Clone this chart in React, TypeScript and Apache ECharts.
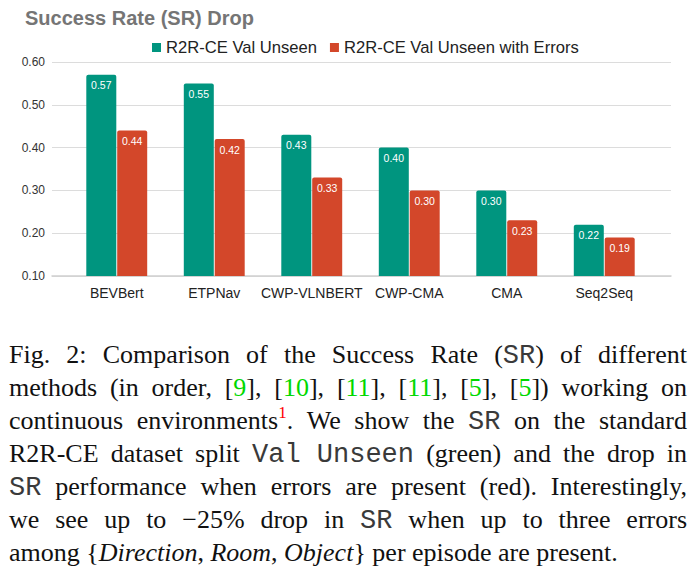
import React, { useEffect, useRef } from "react";
import * as echarts from "echarts";

const chartTitle = "Success Rate (SR) Drop";
const categories = ["BEVBert", "ETPNav", "CWP-VLNBERT", "CWP-CMA", "CMA", "Seq2Seq"];
const seriesNames = ["R2R-CE Val Unseen", "R2R-CE Val Unseen with Errors"];
const valUnseen = [0.57, 0.55, 0.43, 0.4, 0.3, 0.22];
const valUnseenErrors = [0.44, 0.42, 0.33, 0.3, 0.23, 0.19];
const yMin = 0.1;
const yMax = 0.6;
const yStep = 0.1;

type Seg = [string, string];
const captionLines: Seg[][] = [
  [["rm", "Fig. 2: Comparison of the Success Rate ("], ["tt", "SR"], ["rm", ") of different"]],
  [
    ["rm", "methods (in order, ["], ["g", "9"], ["rm", "], ["], ["g", "10"], ["rm", "], ["],
    ["g", "11"], ["rm", "], ["], ["g", "11"], ["rm", "], ["], ["g", "5"], ["rm", "], ["],
    ["g", "5"], ["rm", "]) working on"],
  ],
  [["rm", "continuous environments"], ["sup", "1"], ["rm", ". We show the "], ["tt", "SR"], ["rm", " on the standard"]],
  [["rm", "R2R-CE dataset split "], ["tt", "Val\u00a0Unseen"], ["rm", " (green) and the drop in"]],
  [["tt", "SR"], ["rm", " performance when errors are present (red). Interestingly,"]],
  [["rm", "we see up to \u221225% drop in "], ["tt", "SR"], ["rm", " when up to three errors"]],
  [
    ["rm", "among {"], ["it", "Direction"], ["rm", ", "], ["it", "Room"], ["rm", ", "],
    ["it", "Object"], ["rm", "} per episode are present."],
  ],
];

const SERIF = "Liberation Serif";
const MONO = "Liberation Mono";
const STY: Record<
  string,
  { size: number; family: string; italic: boolean; fill: string; raise: number; central: number }
> = {
  rm: { size: 26, family: SERIF, italic: false, fill: "#111", raise: 0, central: 0.3375 },
  g: { size: 26, family: SERIF, italic: false, fill: "#00d800", raise: 0, central: 0.3375 },
  it: { size: 26, family: SERIF, italic: true, fill: "#111", raise: 0, central: 0.3375 },
  tt: { size: 27, family: MONO, italic: false, fill: "#3a3a3a", raise: 0, central: 0.2665 },
  sup: { size: 17, family: SERIF, italic: false, fill: "#ff0000", raise: 11, central: 0.3375 },
};

function buildCaption(): any[] {
  const canvas = document.createElement("canvas");
  const ctx = canvas.getContext("2d") as CanvasRenderingContext2D;
  const fontOf = (k: string) => {
    const s = STY[k];
    return `${s.italic ? "italic " : ""}${s.size}px '${s.family}'`;
  };
  const measure = (t: string, k: string) => {
    ctx.font = fontOf(k);
    return ctx.measureText(t).width;
  };
  const left = 9;
  const width = 678;
  const base0 = 363;
  const lh = 33;
  const els: any[] = [];
  captionLines.forEach((line, li) => {
    const words: Seg[][] = [[]];
    for (const [k, t] of line) {
      if (k === "tt" || k === "sup") {
        words[words.length - 1].push([k, t]);
        continue;
      }
      t.split(" ").forEach((p, i) => {
        if (i > 0) words.push([]);
        if (p) words[words.length - 1].push([k, p]);
      });
    }
    const ws = words.filter((w) => w.length);
    const widths = ws.map((w) => w.reduce((s, [k, t]) => s + measure(t, k), 0));
    const total = widths.reduce((a, b) => a + b, 0);
    const last = li === captionLines.length - 1;
    const gap = last ? measure(" ", "rm") : (width - total) / (ws.length - 1);
    let x = left;
    const baseline = base0 + lh * li;
    ws.forEach((w) => {
      for (const [k, t] of w) {
        const st = STY[k];
        els.push({
          type: "text",
          x,
          y: baseline - st.raise - st.central * st.size,
          silent: true,
          style: {
            text: t,
            fontSize: st.size,
            fontFamily: st.family,
            fontStyle: st.italic ? "italic" : "normal",
            fill: st.fill,
            align: "left",
            verticalAlign: "middle",
          },
        });
        x += measure(t, k);
      }
      x += gap;
    });
  });
  return els;
}

const SANS = "Liberation Sans";

export default function App() {
  const ref = useRef<HTMLDivElement>(null);
  useEffect(() => {
    if (!ref.current) return;
    const chart = echarts.init(ref.current, undefined, { renderer: "svg" });
    const labelOpt = {
      show: true,
      position: "insideTop",
      distance: 5,
      color: "#ffffff",
      fontSize: 10.5,
      fontFamily: SANS,
      formatter: (p: any) => Number(p.value).toFixed(2),
    };
    chart.setOption({
      animation: false,
      textStyle: { fontFamily: SANS },
      title: {
        text: chartTitle,
        left: 25,
        top: 8,
        padding: 0,
        textStyle: { fontSize: 20, fontWeight: "bold", color: "#757575", fontFamily: SANS },
      },
      legend: {
        data: seriesNames,
        left: 152,
        top: 39,
        padding: 0,
        itemWidth: 9,
        itemHeight: 9,
        itemGap: 13,
        icon: "rect",
        textStyle: { fontSize: 16.6, color: "#222", fontFamily: SANS },
      },
      grid: [
        { left: 68, right: 46, top: 62, bottom: 301 },
        { left: 52, right: 28, top: 62, bottom: 301 },
      ],
      xAxis: [
        {
          type: "category",
          gridIndex: 0,
          data: categories,
          axisLine: { show: false },
          axisTick: { show: false },
          axisLabel: { interval: 0, fontSize: 14, color: "#222", margin: 10, fontFamily: SANS },
        },
        {
          type: "category",
          gridIndex: 1,
          data: [""],
          axisLine: { show: true, lineStyle: { color: "#d0d0d0", width: 1.5 } },
          axisTick: { show: false },
          axisLabel: { show: false },
        },
      ],
      yAxis: [
        { type: "value", gridIndex: 0, min: yMin, max: yMax, show: false, splitLine: { show: false } },
        {
          type: "value",
          gridIndex: 1,
          min: yMin,
          max: yMax,
          interval: yStep,
          axisLine: { show: false },
          axisTick: { show: false },
          axisLabel: {
            fontSize: 12,
            color: "#333",
            margin: 7,
            fontFamily: SANS,
            formatter: (v: number) => v.toFixed(2),
          },
          splitLine: { lineStyle: { color: "#dcdcdc", width: 1 } },
        },
      ],
      series: [
        {
          name: seriesNames[0],
          type: "bar",
          xAxisIndex: 0,
          yAxisIndex: 0,
          data: valUnseen,
          barWidth: 30,
          barGap: "3%",
          itemStyle: { color: "#00957f", borderRadius: [2, 2, 0, 0] },
          label: labelOpt,
        },
        {
          name: seriesNames[1],
          type: "bar",
          xAxisIndex: 0,
          yAxisIndex: 0,
          data: valUnseenErrors,
          barWidth: 30,
          barGap: "3%",
          itemStyle: { color: "#d3472a", borderRadius: [2, 2, 0, 0] },
          label: labelOpt,
        },
        { type: "line", xAxisIndex: 1, yAxisIndex: 1, data: [], silent: true },
      ],
      graphic: buildCaption(),
    });
    return () => chart.dispose();
  }, []);
  return (
    <div
      ref={ref}
      style={{ position: "absolute", left: 0, top: 0, width: 699, height: 577, background: "#fff" }}
    />
  );
}
